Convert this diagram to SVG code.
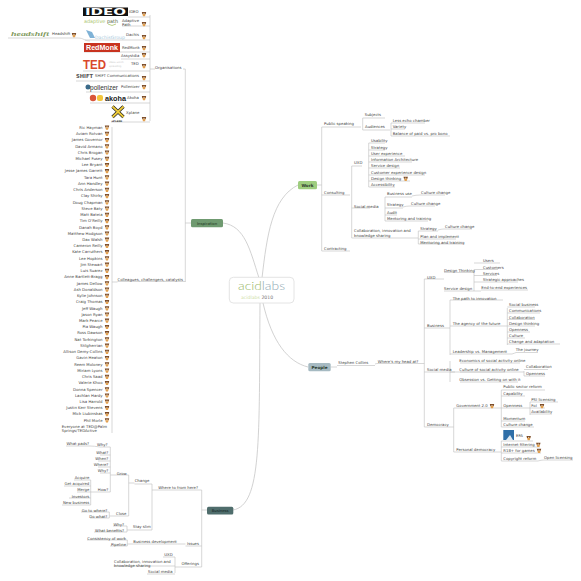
<svg xmlns="http://www.w3.org/2000/svg" width="581" height="581" viewBox="0 0 581 581">
<style>
text{font-family:"DejaVu Sans",Verdana,sans-serif;font-size:3.85px;fill:#444}
.e{text-anchor:end}
.c{fill:none;stroke:#bdbdbd;stroke-width:.6}
.m{fill:none;stroke:#c6c6c6;stroke-width:.8}
.b{font-size:4.2px;font-weight:bold;fill:#2c3a2c;text-anchor:middle}
</style>
<defs>
<g id="ic"><path d="M-2.2-2H2.2L1.7 0H-1.700Z" fill="#7a4a26"/><path d="M-1.700 0H1.700L1 2.200H-1Z" fill="#e2a050"/><circle r=".6" cy="-.6" fill="#f3e3c8"/></g>
</defs>
<rect width="581" height="581" fill="#fff"/>
<g id="connectors">
<path class="m" d="M262 278C267 235 272 198 298 185"/>
<path class="m" d="M259 278C250 250 245 226 223 223"/>
<path class="m" d="M263 303C272 342 288 362 308 367"/>
<path class="m" d="M260 303C259 440 262 505 233 510"/>
<path class="c" d="M150 15V121M150 69H155M150 17H128M150 26H122M150 40H85M150 52H84M150 59H121M150 71H83M150 81H76M150 92H86M150 103H90M150 122H111M8 38H78C84 38 84 41 90 41"/>
<path class="c" d="M183 69H185.3V282M185.3 223H191M185.3 281.5H117.5M112 127V433M112 282H117.5"/>
<path class="c" d="M317 185H321.7M321.700 127V251M321.700 127H361M321.700 195H350M321.700 251H350M351.700 166V238M351.700 208H370M351.700 166H362M351.700 238H418M362.700 118V130M362.700 118H385M362.700 130H390M391 123V136M391 123H425M391 129H405M391 136H450M368.700 143V187M368.700 143H385M368.700 150H385M368.700 156H405M368.700 162H412M368.700 168H400M368.700 175H425M368.700 181H410M368.700 187H395"/>
<path class="c" d="M385 197V221M385 197H412M412 196Q416 195 420 195H445M385 208H403M403 207Q406 206 410 206H435M385 215H397M385 221H428M418.300 231V244M418.300 231H438M438 230Q441 229 444 229H472M418.300 239H456M418.300 244H462"/>
<path class="c" d="M330.700 367H337M337 365.500H375M375 364Q376 363.500 378 363.500H424.300M424.300 279V427M424.300 279H440M424.300 328H450M424.300 372H455M424.300 427H453.700M440 279H444M444 272.500H474M474 272.500V291M474 263H500M474 269.500H498M474 275.500H497M474 282H518M474 291H444M474 291H481M481 290H528"/>
<path class="c" d="M450 300V355M450 300H503M450 326H507M450 354H512M507.300 308V345M507.300 307H535M507.300 313H540M507.300 319.500H535M507.300 326H535M507.300 332H530M507.300 338H525M507.300 344H560M512 354Q515 353 516 352.500H538"/>
<path class="c" d="M453.700 408V452M453.700 408H501.300M453.700 452H501.300M450 372H505M460 363H520M460 372H524M460 382H518M524 371V376M524 369.500H548M524 376H545M450 361V382"/>
<path class="c" d="M501.300 390V427M501.300 390H545M501.300 396H525M501.300 408H530M501.300 421H525M501.300 427H534M530 402V415M530 402H558M530 408H545M530 414H552M501.300 441V461M501.300 441H533M501.300 447H540M501.300 453H541M501.300 461H538M538 461Q541 460 544 460H573"/>
<path class="c" d="M207 510H201.700M201.700 490V567M201.700 490H158M201.700 546H185.500M201.700 567H180.700M158 490H152M152 484V530M152 484H134.500M152 530H133.500M134.500 483H128.700M128.700 475V516M128.700 475H116.500M128.700 516H116.500M116.500 475H110.300M110.300 447V492M110.300 447H100M110.300 455H100M110.300 461H98M110.300 467H98M110.300 473H100M110.300 492H97M100 447Q94 446 90 446H66M97 492H90.700M90.700 480V505M90.700 480H74M90.700 486H64M90.700 492H77M90.700 498H69M90.700 505H62M116.500 516H109.300M109.300 512V518M109.300 512H81M109.300 518H90M133.500 530H127M127 526V532M127 526H113M127 532H94M133.300 544H127.300M133.300 544H177.700H185.500M127.300 540V546M127.300 540H87M127.300 546H110M180.700 567H175M175 557V573M175 557H163M175 566H113.500M175 574H147"/>
</g>
<g id="central"><rect x="229.300" y="277.300" width="64.700" height="25.700" rx="4" fill="#fff" stroke="#ddd" stroke-width=".8"/>
<text x="238" y="290" style="font-size:12.500px;font-family:Lato,'DejaVu Sans',sans-serif;font-weight:300" textLength="47" lengthAdjust="spacingAndGlyphs"><tspan fill="#9ab86a">acid</tspan><tspan fill="#8fa9b4">labs</tspan></text>
<text x="241" y="298.500" style="font-size:4.6px"><tspan fill="#cfe0a8">acidlabs </tspan><tspan fill="#777">2010</tspan></text></g>
<g id="work"><rect x="298" y="181" width="19" height="8.300" rx="1.500" fill="#9fcd7f"/><text class="b" x="307.500" y="186.500">Work</text></g>
<g id="inspiration"><rect x="191" y="219" width="32" height="8.300" rx="1.500" fill="#6f9a70"/><text class="b" x="207" y="224.500" style="font-size:3.8px;font-weight:normal;fill:#1f331f">Inspiration</text></g>
<g id="people"><rect x="308.300" y="363" width="22.400" height="8.200" rx="1.500" fill="#a6bac2"/><text class="b" x="319.500" y="368.500">People</text></g>
<g id="business"><rect x="207" y="506.700" width="26.300" height="7.800" rx="1.500" fill="#4f6d6c"/><text class="b" x="220.100" y="512" style="font-size:3.8px;font-weight:normal;fill:#0d1c1c">Business</text></g>

<g id="organisations"><text x="155" y="68.500">Organisations</text></g>
<g id="ideo"><rect x="83" y="7.500" width="45" height="8.500" fill="#111"/><text x="85" y="14.800" textLength="41" lengthAdjust="spacingAndGlyphs" style="font-size:8px;font-weight:bold;fill:#fff">IDEO</text><text x="129" y="13">IDEO</text><use href="#ic" x="144" y="14"/></g>
<g id="adaptive"><text x="84" y="23" textLength="34" lengthAdjust="spacingAndGlyphs" style="font-size:5px;fill:#a8c46a">adaptive <tspan fill="#4b5a3a">path</tspan></text><path d="M108 24Q112 27 116 24" stroke="#a8c46a" stroke-width=".8" fill="none"/><text x="122" y="21.500">Adaptive</text><text x="122" y="26">Path</text><use href="#ic" x="144" y="24"/></g>
<g id="dachis"><path d="M86 30L92 32L95 38L90 38Z" fill="#7fb2d6"/><text x="95" y="39" textLength="30" lengthAdjust="spacingAndGlyphs" style="font-size:4.500px;fill:#a9c9dc">DachisGroup</text><text x="126" y="36.300">Dachis</text><use href="#ic" x="144" y="37"/></g>
<g id="headshift"><text x="11" y="35.500" textLength="38" lengthAdjust="spacingAndGlyphs" style="font-size:6px;font-style:italic;font-weight:bold;fill:#7f9a5e;font-family:'Liberation Serif',serif">headshift</text><text x="52" y="34.800">Headshift</text><use href="#ic" x="74" y="35"/></g>
<g id="redmonk"><rect x="84" y="43" width="36" height="9" fill="#c8331f"/><text x="86" y="49.800" textLength="32" lengthAdjust="spacingAndGlyphs" style="font-size:6.500px;font-weight:bold;fill:#fff;font-family:'Liberation Sans'">RedMonk</text><text x="122" y="48.800">RedMonk</text><use href="#ic" x="144" y="48"/></g>
<g id="assystdia"><text x="121" y="57.300">Assystdia</text><use href="#ic" x="144" y="55"/></g>
<g id="ted"><text x="83" y="68.500" textLength="23" lengthAdjust="spacingAndGlyphs" style="font-size:12px;font-weight:bold;fill:#d9482b;font-family:'Liberation Sans'">TED</text><text x="109" y="63" style="font-size:2.500px;fill:#ccc">ideas worth</text><text x="109" y="67" style="font-size:2.500px;fill:#ccc">spreading</text><text x="131" y="65.300">TED</text><use href="#ic" x="144" y="66"/></g>
<g id="shift"><text x="76" y="78" textLength="17" lengthAdjust="spacingAndGlyphs" style="font-size:5.500px;font-weight:bold;fill:#555">SHIFT</text><text x="95" y="77.300" textLength="44" lengthAdjust="spacingAndGlyphs">SHIFT Communications</text><use href="#ic" x="144" y="78"/></g>
<g id="pollenizer"><circle cx="88" cy="87" r="2.500" fill="#3a6a8a"/><text x="90" y="90" textLength="28" lengthAdjust="spacingAndGlyphs" style="font-size:6.300px;fill:#333;font-family:'Liberation Sans'">pollenizer</text><text x="121" y="88.300">Pollenizer</text><use href="#ic" x="144" y="87"/></g>
<g id="akoha"><circle cx="93" cy="98" r="3.200" fill="#d9553a"/><rect x="97" y="95" width="6" height="6" rx="2" fill="#f3c53c"/><text x="105" y="101" textLength="21" lengthAdjust="spacingAndGlyphs" style="font-size:7.500px;font-weight:bold;fill:#1a1a1a;font-family:'Liberation Sans'">akoha</text><text x="127" y="99.300">Akoha</text><use href="#ic" x="144" y="98"/></g>
<g id="xplane"><path d="M112.500 106.500L123.500 117M123.500 106.500L112.500 117" stroke="#222" stroke-width="3.200"/><path d="M112.500 106.500L123.500 117M123.500 106.500L112.500 117" stroke="#eecb3a" stroke-width="1.800"/><text x="111.500" y="122" style="font-size:2.500px;font-weight:bold;fill:#333">xPLANE</text><text x="126" y="114.300">Xplane</text><use href="#ic" x="144" y="119"/></g>

<g id="colleagues"><text x="117.500" y="281">Colleagues, challengers, catalysts</text></g>
<g id="p0"><text class="e" x="102.500" y="128.800">Ric Hayman</text><use href="#ic" x="107" y="127.500"/></g>
<g id="p1"><text class="e" x="102.500" y="135">Aviam Rotvan</text><use href="#ic" x="107" y="133.700"/></g>
<g id="p2"><text class="e" x="102.500" y="141.300">James Governor</text><use href="#ic" x="107" y="140"/></g>
<g id="p3"><text class="e" x="102.500" y="147.500">David Armano</text><use href="#ic" x="107" y="146.200"/></g>
<g id="p4"><text class="e" x="102.500" y="153.700">Chris Brogan</text><use href="#ic" x="107" y="152.400"/></g>
<g id="p5"><text class="e" x="102.500" y="160">Michael Fusey</text><use href="#ic" x="107" y="158.700"/></g>
<g id="p6"><text class="e" x="102.500" y="166.200">Lee Bryant</text><use href="#ic" x="107" y="164.900"/></g>
<g id="p7"><text class="e" x="102.500" y="172.400">Jesse James Garrett</text><use href="#ic" x="107" y="171.100"/></g>
<g id="p8"><text class="e" x="102.500" y="178.600">Tara Hunt</text><use href="#ic" x="107" y="177.300"/></g>
<g id="p9"><text class="e" x="102.500" y="184.900">Ann Handley</text><use href="#ic" x="107" y="183.600"/></g>
<g id="p10"><text class="e" x="102.500" y="191.100">Chris Anderson</text><use href="#ic" x="107" y="189.800"/></g>
<g id="p11"><text class="e" x="102.500" y="197.300">Clay Shirky</text><use href="#ic" x="107" y="196"/></g>
<g id="p12"><text class="e" x="102.500" y="203.600">Doug Chapman</text><use href="#ic" x="107" y="202.300"/></g>
<g id="p13"><text class="e" x="102.500" y="209.800">Steve Baty</text><use href="#ic" x="107" y="208.500"/></g>
<g id="p14"><text class="e" x="102.500" y="216">Matt Bateia</text><use href="#ic" x="107" y="214.700"/></g>
<g id="p15"><text class="e" x="102.500" y="222.300">Tim O'Reilly</text><use href="#ic" x="107" y="221"/></g>
<g id="p16"><text class="e" x="102.500" y="228.500">Danah Boyd</text><use href="#ic" x="107" y="227.200"/></g>
<g id="p17"><text class="e" x="102.500" y="234.700">Matthew Hodgson</text><use href="#ic" x="107" y="233.400"/></g>
<g id="p18"><text class="e" x="102.500" y="240.900">Dax Walsh</text><use href="#ic" x="107" y="239.600"/></g>
<g id="p19"><text class="e" x="102.500" y="247.200">Cameron Reilly</text><use href="#ic" x="107" y="245.900"/></g>
<g id="p20"><text class="e" x="102.500" y="253.400">Kate Carruthers</text><use href="#ic" x="107" y="252.100"/></g>
<g id="p21"><text class="e" x="102.500" y="259.600">Lee Hopkins</text><use href="#ic" x="107" y="258.300"/></g>
<g id="p22"><text class="e" x="102.500" y="265.900">Jim Stewart</text><use href="#ic" x="107" y="264.600"/></g>
<g id="p23"><text class="e" x="102.500" y="272.100">Luis Suarez</text><use href="#ic" x="107" y="270.800"/></g>
<g id="p24"><text class="e" x="102.500" y="278.300">Anne Bartlett-Bragg</text><use href="#ic" x="107" y="277"/></g>
<g id="p25"><text class="e" x="102.500" y="284.600">James Dellow</text><use href="#ic" x="107" y="283.300"/></g>
<g id="p26"><text class="e" x="102.500" y="290.800">Ash Donaldson</text><use href="#ic" x="107" y="289.500"/></g>
<g id="p27"><text class="e" x="102.500" y="297">Kylie Johnson</text><use href="#ic" x="107" y="295.700"/></g>
<g id="p28"><text class="e" x="102.500" y="303.200">Craig Thomas</text><use href="#ic" x="107" y="301.900"/></g>
<g id="p29"><text class="e" x="102.500" y="309.500">Jeff Waugh</text><use href="#ic" x="107" y="308.200"/></g>
<g id="p30"><text class="e" x="102.500" y="315.700">Jason Ryan</text><use href="#ic" x="107" y="314.400"/></g>
<g id="p31"><text class="e" x="102.500" y="321.900">Mark Pearce</text><use href="#ic" x="107" y="320.600"/></g>
<g id="p32"><text class="e" x="102.500" y="328.200">Pia Waugh</text><use href="#ic" x="107" y="326.900"/></g>
<g id="p33"><text class="e" x="102.500" y="334.400">Ross Dawson</text><use href="#ic" x="107" y="333.100"/></g>
<g id="p34"><text class="e" x="102.500" y="340.600">Nat Torkington</text><use href="#ic" x="107" y="339.300"/></g>
<g id="p35"><text class="e" x="102.500" y="346.900">Stilgherrian</text><use href="#ic" x="107" y="345.600"/></g>
<g id="p36"><text class="e" x="102.500" y="353.100">Allison Demy-Collins</text><use href="#ic" x="107" y="351.800"/></g>
<g id="p37"><text class="e" x="102.500" y="359.300">Gavin Heaton</text><use href="#ic" x="107" y="358"/></g>
<g id="p38"><text class="e" x="102.500" y="365.500">Reem Moloney</text><use href="#ic" x="107" y="364.200"/></g>
<g id="p39"><text class="e" x="102.500" y="371.800">Miriam Lyons</text><use href="#ic" x="107" y="370.500"/></g>
<g id="p40"><text class="e" x="102.500" y="378">Chris Saad</text><use href="#ic" x="107" y="376.700"/></g>
<g id="p41"><text class="e" x="102.500" y="384.200">Valerie Khoo</text><use href="#ic" x="107" y="382.900"/></g>
<g id="p42"><text class="e" x="102.500" y="390.500">Donna Spencer</text><use href="#ic" x="107" y="389.200"/></g>
<g id="p43"><text class="e" x="102.500" y="396.700">Lachlan Hardy</text><use href="#ic" x="107" y="395.400"/></g>
<g id="p44"><text class="e" x="102.500" y="402.900">Lisa Harrold</text><use href="#ic" x="107" y="401.600"/></g>
<g id="p45"><text class="e" x="102.500" y="409.200">Justin Kerr Stevens</text><use href="#ic" x="107" y="407.900"/></g>
<g id="p46"><text class="e" x="102.500" y="415.400">Mick Liubinskas</text><use href="#ic" x="107" y="414.100"/></g>
<g id="p47"><text class="e" x="102.500" y="421.600">Phil Morle</text><use href="#ic" x="107" y="420.300"/></g>
<g id="p48"><text x="61.700" y="428">Everyone at TED@Palm</text><text x="61.700" y="432.300">Springs/TEDActive</text></g>

<g id="w1"><text x="324" y="125.300">Public speaking</text></g>
<g id="w2"><text x="364.700" y="116.300">Subjects</text></g>
<g id="w3"><text x="365" y="128.300">Audiences</text></g>
<g id="w4"><text x="392.700" y="122.300">Less echo chamber</text></g>
<g id="w5"><text x="392.700" y="128.300">Variety</text></g>
<g id="w6"><text x="392.700" y="135">Balance of paid vs. pro bono</text></g>
<g id="w7"><text x="324" y="194">Consulting</text></g>
<g id="w8"><text x="324" y="250.300">Contracting</text></g>
<g id="w9"><text x="354" y="164">UXD</text></g>
<g id="w10"><text x="371" y="142.300">Usability</text></g>
<g id="w11"><text x="371" y="149">Strategy</text></g>
<g id="w12"><text x="371" y="155">User experience</text></g>
<g id="w13"><text x="371" y="161.300">Information Architecture</text></g>
<g id="w14"><text x="371" y="167.300">Service design</text></g>
<g id="w15"><text x="371" y="173.600">Customer experience design</text></g>
<g id="w16"><text x="371" y="180">Design thinking</text><use href="#ic" x="405.700" y="178.700"/></g>
<g id="w17"><text x="371" y="186.300">Accessibility</text></g>
<g id="w18"><text x="354" y="207.600">Social media</text></g>
<g id="w19"><text x="387" y="195.300">Business use</text></g>
<g id="w20"><text x="421" y="194">Culture change</text></g>
<g id="w21"><text x="387" y="206.300">Strategy</text></g>
<g id="w22"><text x="411" y="205">Culture change</text></g>
<g id="w23"><text x="387" y="214.300">Audit</text></g>
<g id="w24"><text x="387" y="220.300">Mentoring and training</text></g>
<g id="w25"><text x="354" y="232.300">Collaboration, innovation and</text><text x="354" y="237">knowledge sharing</text></g>
<g id="w26"><text x="420.300" y="229.600">Strategy</text></g>
<g id="w27"><text x="445" y="228.300">Culture change</text></g>
<g id="w28"><text x="420.300" y="237.600">Plan and implement</text></g>
<g id="w29"><text x="420.300" y="243.600">Mentoring and training</text></g>

<g id="h1"><text x="338.300" y="364.300">Stephen Collins</text></g>
<g id="h2"><text x="377.700" y="362.600">Where's my head at?</text></g>
<g id="h3"><text x="427" y="278.600">UXD</text></g>
<g id="h4"><text x="444" y="272">Design Thinking</text></g>
<g id="h5"><text x="444" y="290.300">Service design</text></g>
<g id="h6"><text x="483" y="262.300">Users</text></g>
<g id="h7"><text x="483" y="268.600">Customers</text></g>
<g id="h8"><text x="483" y="274.600">Services</text></g>
<g id="h9"><text x="483" y="281">Strategic approaches</text></g>
<g id="h10"><text x="481.300" y="289">End-to-end experiences</text></g>
<g id="h11"><text x="427" y="327">Business</text></g>
<g id="h12"><text x="452.700" y="299.600">The path to innovation</text></g>
<g id="h13"><text x="452.700" y="325">The agency of the future</text></g>
<g id="h14"><text x="452.700" y="353">Leadership vs. Management</text></g>
<g id="h15"><text x="515.700" y="351.300">The journey</text></g>
<g id="h16"><text x="509" y="306.300">Social business</text></g>
<g id="h17"><text x="509" y="312.300">Communications</text></g>
<g id="h18"><text x="509" y="318.600">Collaboration</text></g>
<g id="h19"><text x="509" y="325">Design thinking</text></g>
<g id="h20"><text x="509" y="331">Openness</text></g>
<g id="h21"><text x="509" y="337.300">Culture</text></g>
<g id="h22"><text x="509" y="343.300">Change and adaptation</text></g>
<g id="h23"><text x="427" y="371.300">Social media</text></g>
<g id="h24"><text x="459.300" y="362">Economics of social activity online</text></g>
<g id="h25"><text x="459.300" y="371.300">Culture of social activity online</text></g>
<g id="h26"><text x="459.300" y="380.600">Obsession vs. Getting on with it</text></g>
<g id="h27"><text x="526" y="368.300">Collaboration</text></g>
<g id="h28"><text x="526" y="374.600">Openness</text></g>
<g id="h29"><text x="427" y="426">Democracy</text></g>
<g id="h30"><text x="456.300" y="407.300">Government 2.0</text><use href="#ic" x="492" y="406"/></g>
<g id="h31"><text x="456.300" y="450.600">Personal democracy</text></g>
<g id="h32"><text x="503.300" y="388.300">Public sector reform</text></g>
<g id="h33"><text x="503.300" y="394.600">Capability</text></g>
<g id="h34"><text x="503.300" y="407.300">Openness</text></g>
<g id="h35"><text x="503.300" y="419.600">Momentum</text></g>
<g id="h36"><text x="503.300" y="426">Culture change</text></g>
<g id="h37"><text x="531.300" y="401">PSI licensing</text></g>
<g id="h38"><text x="531.300" y="407.300">FoI</text><use href="#ic" x="542" y="406"/></g>
<g id="h39"><text x="531.300" y="413.300">Availability</text></g>
<g id="h40"><rect x="503.300" y="430" width="10.700" height="10" fill="#2f6fa8"/><path d="M506 440L510 435L513 440Z" fill="#dce8f2"/><text x="516" y="436.600">EFA</text><use href="#ic" x="528.700" y="438"/></g>
<g id="h41"><text x="503.300" y="446">Internet filtering</text><use href="#ic" x="538.300" y="444.700"/></g>
<g id="h42"><text x="503.300" y="452">R18+ for games</text><use href="#ic" x="539" y="450.700"/></g>
<g id="h43"><text x="503.300" y="460">Copyright reform</text></g>
<g id="h44"><text x="544" y="458.600">Open licensing</text></g>

<g id="b1"><text x="158.300" y="489">Where to from here?</text></g>
<g id="b2"><text class="e" x="199" y="545">Issues</text></g>
<g id="b3"><text class="e" x="199" y="565.300">Offerings</text></g>
<g id="b4"><text x="134.700" y="482.300">Change</text></g>
<g id="b5"><text x="133" y="528.300">Stay slim</text></g>
<g id="b6"><text x="116.700" y="475">Grow</text></g>
<g id="b7"><text x="116" y="515">Close</text></g>
<g id="b8"><text class="e" x="89" y="444.600">What pads?</text></g>
<g id="b9"><text class="e" x="107.500" y="446.300">Why?</text></g>
<g id="b10"><text class="e" x="108.300" y="453.600">What?</text></g>
<g id="b11"><text class="e" x="108.300" y="460.300">When?</text></g>
<g id="b12"><text class="e" x="108.300" y="466.300">Where?</text></g>
<g id="b13"><text class="e" x="108.300" y="472.300">Why?</text></g>
<g id="b14"><text class="e" x="108.300" y="491">How?</text></g>
<g id="b15"><text class="e" x="89.300" y="479">Acquire</text></g>
<g id="b16"><text class="e" x="89.300" y="485">Get acquired</text></g>
<g id="b17"><text class="e" x="89.300" y="491">Merge</text></g>
<g id="b18"><text class="e" x="89.300" y="497.600">Investors</text></g>
<g id="b19"><text class="e" x="89.300" y="503.600">New business</text></g>
<g id="b20"><text class="e" x="107.300" y="511.600">Go to where?</text></g>
<g id="b21"><text class="e" x="107.300" y="517.600">Do what?</text></g>
<g id="b22"><text class="e" x="124" y="525.600">Why?</text></g>
<g id="b23"><text class="e" x="124" y="531.600">What benefits?</text></g>
<g id="b24"><text x="133.300" y="543">Business development</text></g>
<g id="b25"><text class="e" x="126" y="539.600">Consistency of work</text></g>
<g id="b26"><text class="e" x="126" y="545.600">Pipeline</text></g>
<g id="b27"><text class="e" x="172.700" y="556.300">UXD</text></g>
<g id="b28"><text x="114" y="562.600">Collaboration, innovation and</text><text x="114" y="567">knowledge sharing</text></g>
<g id="b29"><text class="e" x="172.700" y="573.300">Social media</text></g>
</svg>
